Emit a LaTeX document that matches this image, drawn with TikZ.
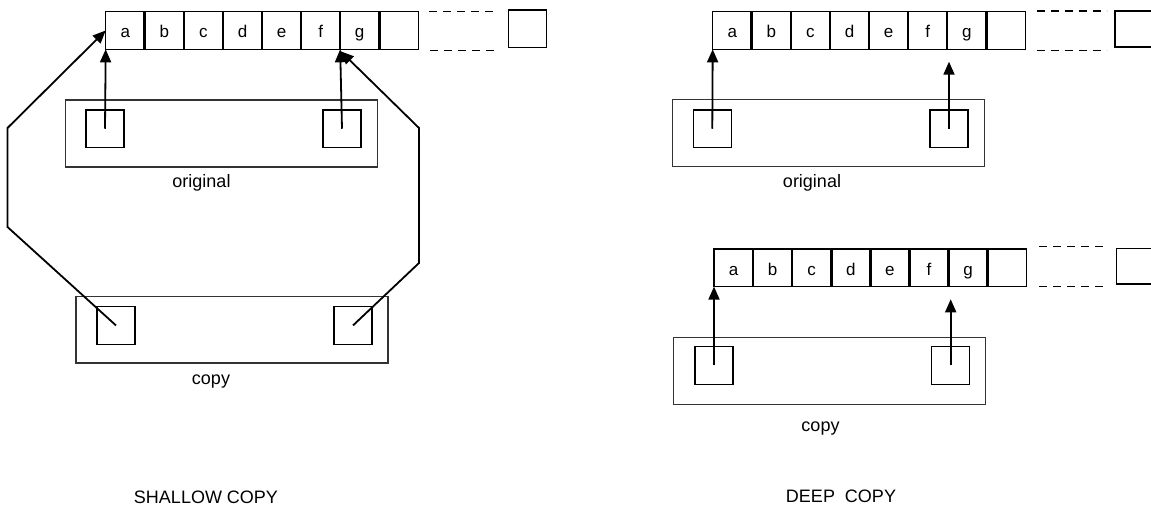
\documentclass[tikz,border=0pt]{standalone}
\usepackage{fontspec}
\setmainfont{Liberation Sans}
\usetikzlibrary{arrows.meta,calc}
\newcommand\cellrow[3]{%
  \foreach \l [count=\i] in {a,b,c,d,e,f,g,{}} {
    \node[cell] (#1\i) at ({#2+(\i-1)*39.08},#3) {\l};
  }
  \foreach \i in {1,...,7} {\draw[sep] (#1\i.north east) -- (#1\i.south east);}
}
\begin{document}
\begin{tikzpicture}[x=1pt,y=-1pt,
  cell/.style={draw, line width=1.1pt, minimum width=39.08pt, minimum height=37.6pt,
    inner sep=0pt, outer sep=0pt, anchor=north west, text height=15pt, text depth=0pt,
    font=\fontsize{17}{17}\selectfont},
  sep/.style={line width=2.6pt},
  endbox/.style={draw, line width=1.2pt, inner sep=0pt, outer sep=0pt, anchor=north west,
    minimum width=38.4pt},
  frame/.style={draw=black!80, line width=1.1pt, inner sep=0pt, outer sep=0pt, anchor=north west,
    minimum width=312pt, minimum height=67pt},
  slot/.style={draw, line width=1.4pt, inner sep=0pt, outer sep=0pt, anchor=north west,
    minimum width=38pt, minimum height=37.5pt},
  dashline/.style={line width=1.5pt, dash pattern=on 8pt off 6pt},
  ptr/.style={line width=1.8pt, -{Triangle[length=13pt,width=11pt]}},
  label/.style={font=\fontsize{18}{18}\selectfont, anchor=base, inner sep=0pt},
]
\useasboundingbox (0,0) rectangle (1151,508);
\clip (0,0) rectangle (1151,508);

% ---------------- SHALLOW COPY ----------------
\cellrow{A}{105.7}{11.7}
\coordinate (dA1s) at (429,11.3);   \coordinate (dA1e) at (498.3,11.3);
\coordinate (dA2s) at (430,50.5);   \coordinate (dA2e) at (498.3,50.5);
\draw[dashline] (dA1s) -- (dA1e);
\draw[dashline] (dA2s) -- (dA2e);
\node[endbox, minimum height=37.7pt] (Aend) at (508.3,10) {};

\node[frame] (OR1) at (65.4,100) {};
\node[slot] (ob1) at (86,110) {};
\node[slot] (ob2) at (323,110) {};
\node[label] (lo1) at (201.5,187.3) {original};

\node[frame, minimum height=66.3pt] (CR1) at (76,296.7) {};
\node[slot] (cb1) at (97,306.7) {};
\node[slot] (cb2) at (334,306.7) {};
\node[label] (lc1) at (211,384) {copy};

\draw[ptr] (ob1.center) -- (A1.south west);
\draw[ptr] (ob2.center) -- (A6.south east);

\coordinate (L1) at (7.5,227);
\coordinate (L2) at (7.5,128);
\coordinate (R1) at (419,263);
\coordinate (R2) at (419,128);
\coordinate (tipR) at ($(A6.south east)+(0.5,2)$);
\draw[ptr, line join=miter] (cb1.center) -- (L1) -- (L2) -- (A1.west);
\draw[ptr, line join=miter] (cb2.center) -- (R1) -- (R2) -- (tipR);

\node[label] (t1) at (206,503) {SHALLOW COPY};

% ---------------- DEEP COPY ----------------
\cellrow{B}{712.7}{11.7}
\coordinate (dB1s) at (1036.7,11);   \coordinate (dB1e) at (1106.7,11);
\coordinate (dB2s) at (1036.7,50.7); \coordinate (dB2e) at (1106.7,50.7);
\draw[dashline] (dB1s) -- (dB1e);
\draw[dashline] (dB2s) -- (dB2e);
\node[endbox, minimum height=36pt] (Bend) at (1115,11) {};

\node[frame, minimum height=67.4pt] (OR2) at (672.7,99.3) {};
\node[slot] (ob3) at (693.3,110) {};
\node[slot] (ob4) at (930,110) {};
\node[label] (lo2) at (812,187.3) {original};

\cellrow{C}{714}{249}
\coordinate (dC1s) at (1039,246.7);  \coordinate (dC1e) at (1106.7,246.7);
\coordinate (dC2s) at (1039,286.7);  \coordinate (dC2e) at (1106.7,286.7);
\draw[dashline] (dC1s) -- (dC1e);
\draw[dashline] (dC2s) -- (dC2e);
\node[endbox, minimum height=35.7pt] (Cend) at (1116.7,248.3) {};

\node[frame] (CR2) at (673.3,337.3) {};
\node[slot] (cb3) at (695,346.7) {};
\node[slot] (cb4) at (931.7,346.7) {};
\node[label] (lc2) at (820.5,431.5) {copy};

\coordinate (tipB) at (ob4.center |- 0,61.7);
\coordinate (tipC) at (cb4.center |- 0,299.3);
\draw[ptr] (ob3.center) -- (B1.south west);
\draw[ptr] (ob4.center) -- (tipB);
\draw[ptr] (cb3.center) -- (C1.south west);
\draw[ptr] (cb4.center) -- (tipC);

\node[label] (t2) at (841,502) {DEEP\ \ COPY};
\end{tikzpicture}
\end{document}
